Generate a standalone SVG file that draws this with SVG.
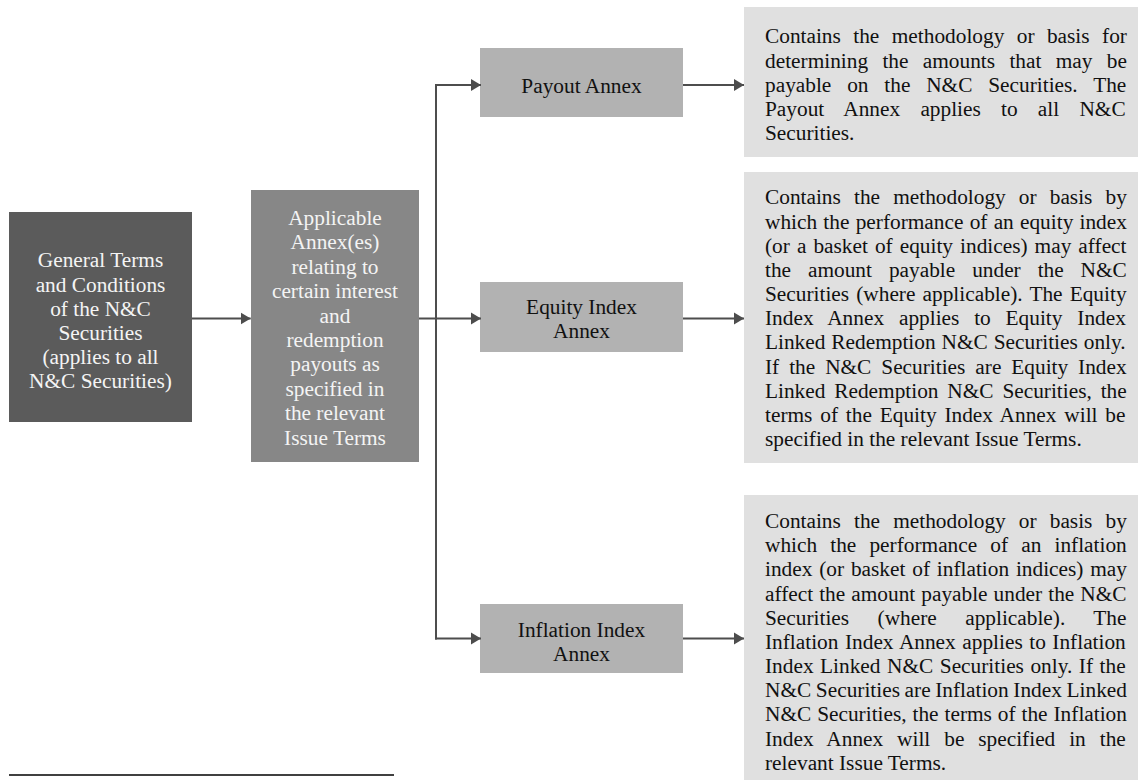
<svg xmlns="http://www.w3.org/2000/svg" width="1138" height="780" viewBox="0 0 1138 780">
<style>
text{font-family:"Liberation Serif","Times New Roman",serif;font-size:21.33px;}
.lt{fill:#f4f4f4;text-anchor:middle;}
.dk{fill:#111111;text-anchor:middle;}
.p{fill:#111111;}
.conn{fill:none;stroke:#4d4d4d;stroke-width:2;}
</style>
<defs>
<marker id="ah" markerUnits="userSpaceOnUse" markerWidth="11" markerHeight="13" refX="10" refY="6.5" orient="auto">
<path d="M0,0.5 L10,6.5 L0,12.5 z" fill="#4d4d4d"/>
</marker>
</defs>
<rect width="1138" height="780" fill="#ffffff"/>

<g id="general-terms">
<rect x="9" y="212" width="183" height="210" fill="#5b5b5b"/>
<text class="lt" x="100.5" y="267.3">General Terms</text>
<text class="lt" x="100.5" y="291.5">and Conditions</text>
<text class="lt" x="100.5" y="315.7">of the N&amp;C</text>
<text class="lt" x="100.5" y="339.9">Securities</text>
<text class="lt" x="100.5" y="364.1">(applies to all</text>
<text class="lt" x="100.5" y="388.3">N&amp;C Securities)</text>
</g>

<g id="applicable-annexes">
<rect x="251" y="190" width="168" height="272" fill="#878787"/>
<text class="lt" x="335" y="225">Applicable</text>
<text class="lt" x="335" y="249.4">Annex(es)</text>
<text class="lt" x="335" y="273.8">relating to</text>
<text class="lt" x="335" y="298.2">certain interest</text>
<text class="lt" x="335" y="322.6">and</text>
<text class="lt" x="335" y="347">redemption</text>
<text class="lt" x="335" y="371.4">payouts as</text>
<text class="lt" x="335" y="395.8">specified in</text>
<text class="lt" x="335" y="420.2">the relevant</text>
<text class="lt" x="335" y="444.6">Issue Terms</text>
</g>

<g id="payout-annex">
<rect x="480" y="48" width="203" height="69" fill="#b2b2b2"/>
<text class="dk" x="581.5" y="92.5">Payout Annex</text>
</g>

<g id="equity-index-annex">
<rect x="480" y="282" width="203" height="70" fill="#b2b2b2"/>
<text class="dk" x="581.5" y="313.5">Equity Index</text>
<text class="dk" x="581.5" y="337.7">Annex</text>
</g>

<g id="inflation-index-annex">
<rect x="480" y="604" width="203" height="69" fill="#b2b2b2"/>
<text class="dk" x="581.5" y="636.5">Inflation Index</text>
<text class="dk" x="581.5" y="660.7">Annex</text>
</g>

<g id="payout-description">
<rect x="744" y="7" width="394" height="150" fill="#e0e0e0"/>
<text class="p" x="765" y="43.3" style="word-spacing:7.1px">Contains the methodology or basis for</text>
<text class="p" x="765" y="67.5" style="word-spacing:9px">determining the amounts that may be</text>
<text class="p" x="765" y="91.6" style="word-spacing:10.5px">payable on the N&amp;C Securities. The</text>
<text class="p" x="765" y="115.8" style="word-spacing:14.9px">Payout Annex applies to all N&amp;C</text>
<text class="p" x="765" y="140">Securities.</text>
</g>

<g id="equity-description">
<rect x="744" y="172" width="394" height="291" fill="#e0e0e0"/>
<text class="p" x="765" y="204.3" style="word-spacing:7.8px">Contains the methodology or basis by</text>
<text class="p" x="765" y="228.5" style="word-spacing:0.9px">which the performance of an equity index</text>
<text class="p" x="765" y="252.6" style="word-spacing:1.7px">(or a basket of equity indices) may affect</text>
<text class="p" x="765" y="276.8" style="word-spacing:11.6px">the amount payable under the N&amp;C</text>
<text class="p" x="765" y="301" style="word-spacing:1.8px">Securities (where applicable). The Equity</text>
<text class="p" x="765" y="325.2" style="word-spacing:9.5px">Index Annex applies to Equity Index</text>
<text class="p" x="765" y="349.3" style="word-spacing:0.6px">Linked Redemption N&amp;C Securities only.</text>
<text class="p" x="765" y="373.5" style="word-spacing:4.6px">If the N&amp;C Securities are Equity Index</text>
<text class="p" x="765" y="397.7" style="word-spacing:3.5px">Linked Redemption N&amp;C Securities, the</text>
<text class="p" x="765" y="421.8" style="word-spacing:2.5px">terms of the Equity Index Annex will be</text>
<text class="p" x="765" y="446">specified in the relevant Issue Terms.</text>
</g>

<g id="inflation-description">
<rect x="744" y="495" width="394" height="285" fill="#e0e0e0"/>
<text class="p" x="765" y="528" style="word-spacing:7.8px">Contains the methodology or basis by</text>
<text class="p" x="765" y="552.2" style="word-spacing:7.8px">which the performance of an inflation</text>
<text class="p" x="765" y="576.3" style="word-spacing:1.5px">index (or basket of inflation indices) may</text>
<text class="p" x="765" y="600.5" style="word-spacing:0.7px">affect the amount payable under the N&amp;C</text>
<text class="p" x="765" y="624.7" style="word-spacing:23.1px">Securities (where applicable). The</text>
<text class="p" x="765" y="648.9" style="word-spacing:1.2px">Inflation Index Annex applies to Inflation</text>
<text class="p" x="765" y="673" style="word-spacing:1.2px">Index Linked N&amp;C Securities only. If the</text>
<text class="p" x="765" y="697.2" style="word-spacing:-0.7px">N&amp;C Securities are Inflation Index Linked</text>
<text class="p" x="765" y="721.4" style="word-spacing:0.6px">N&amp;C Securities, the terms of the Inflation</text>
<text class="p" x="765" y="745.5" style="word-spacing:8.6px">Index Annex will be specified in the</text>
<text class="p" x="765" y="769.7">relevant Issue Terms.</text>
</g>

<g id="connectors">
<path class="conn" d="M192,318.5 H250.7" marker-end="url(#ah)"/>
<path class="conn" d="M419,318.5 H436"/>
<path class="conn" d="M436,84 V639.5"/>
<path class="conn" d="M435,85 H481" marker-end="url(#ah)"/>
<path class="conn" d="M436,318.5 H481" marker-end="url(#ah)"/>
<path class="conn" d="M435,638.5 H481" marker-end="url(#ah)"/>
<path class="conn" d="M683,85 H744" marker-end="url(#ah)"/>
<path class="conn" d="M683,318.5 H744" marker-end="url(#ah)"/>
<path class="conn" d="M683,638.5 H744" marker-end="url(#ah)"/>
</g>

<line x1="9" y1="775" x2="394" y2="775" stroke="#000000" stroke-width="1.7"/>
</svg>
